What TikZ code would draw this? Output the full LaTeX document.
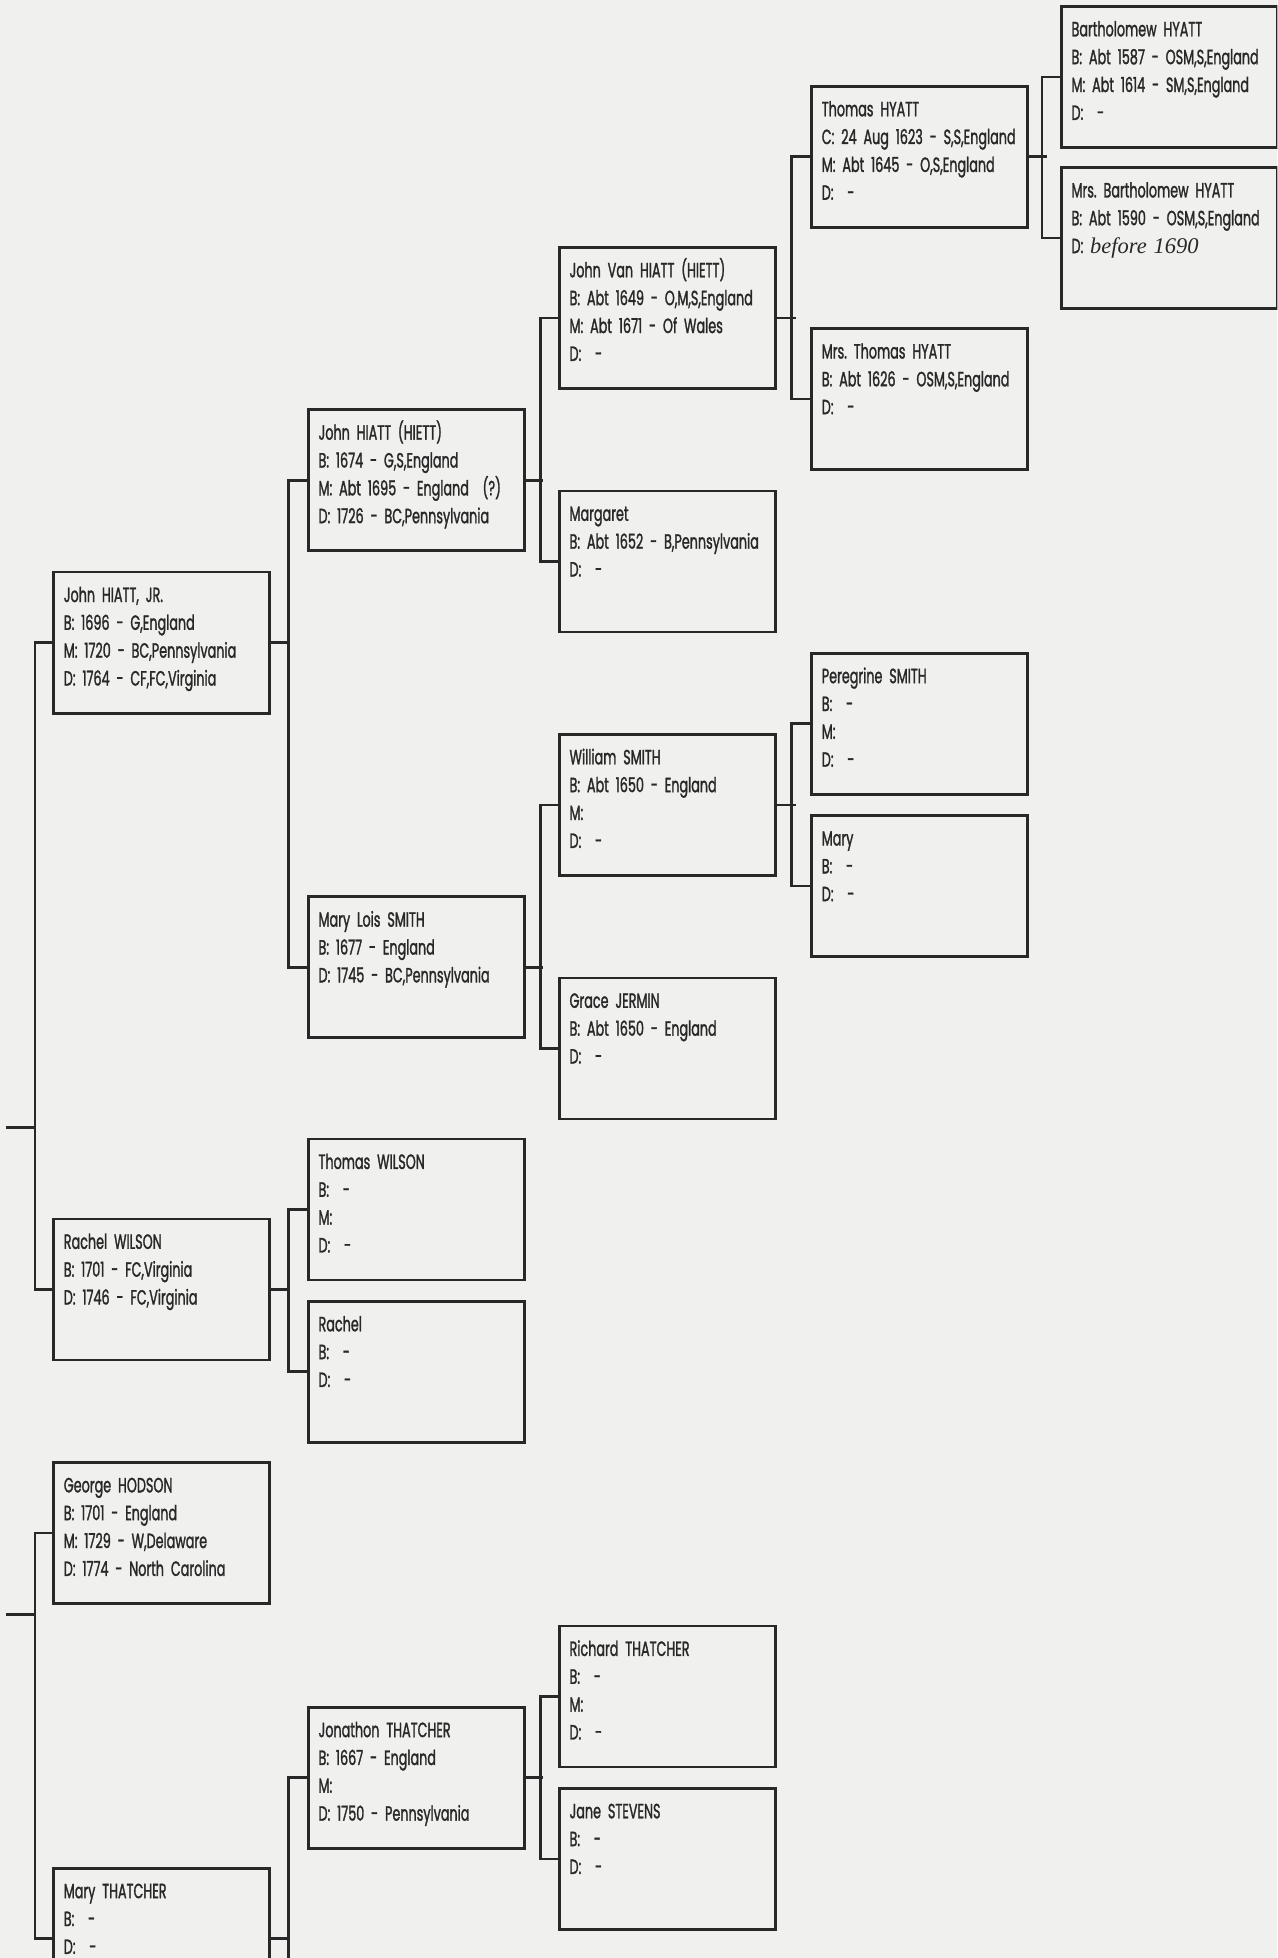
\documentclass[tikz,border=0pt]{standalone}
\usepackage{fontspec}
\setmainfont[FakeStretch=0.62, FakeBold=1.3, WordSpace=0.6]{Poppins}
\newfontfamily\handfont{Liberation Serif}
\definecolor{paper}{RGB}{240,240,238}
\definecolor{ink}{RGB}{40,40,40}

\begin{document}
\begin{tikzpicture}[x=1pt,y=-1pt]
    \tikzstyle{person}=[draw=ink, line width=2.2pt, anchor=north west, text=ink,
        text width=157pt, align=left, inner xsep=8pt, inner ysep=0pt,
        text height=24pt, text depth=89pt,
        font=\fontsize{16.5}{22.3}\selectfont]
    \tikzstyle{link}=[draw=ink, line width=2.2pt]

    \path[use as bounding box, fill=paper] (0,0) rectangle (1023,1568);
    \clip (0,0) rectangle (1023,1568);

    \node[person] (barth) at (849,4) {Bartholomew HYATT\\ B: Abt 1587 - OSM,S,England\\ M: Abt 1614 - SM,S,England\\ D:\ \ -};
    \node[person] (mrsbarth) at (849,133) {Mrs.\ Bartholomew HYATT\\ B: Abt 1590 - OSM,S,England\\ D: {\handfont\itshape\fontsize{18}{22.3}\selectfont before 1690}};

    \node[person] (thomas) at (649,68) {Thomas HYATT\\ C: 24 Aug 1623 - S,S,England\\ M: Abt 1645 - O,S,England\\ D:\ \ -};
    \node[person] (mrsthomas) at (649,262) {Mrs.\ Thomas HYATT\\ B: Abt 1626 - OSM,S,England\\ D:\ \ -};
    \node[person] (peregrine) at (649,522) {Peregrine SMITH\\ B:\ \ -\\ M:\\ D:\ \ -};
    \node[person] (mary) at (649,652) {Mary\\ B:\ \ -\\ D:\ \ -};

    \node[person] (johnvan) at (447,197) {John Van HIATT (HIETT)\\ B: Abt 1649 - O,M,S,England\\ M: Abt 1671 - Of Wales\\ D:\ \ -};
    \node[person] (margaret) at (447,392) {Margaret\\ B: Abt 1652 - B,Pennsylvania\\ D:\ \ -};
    \node[person] (william) at (447,587) {William SMITH\\ B: Abt 1650 - England\\ M:\\ D:\ \ -};
    \node[person] (grace) at (447,782) {Grace JERMIN\\ B: Abt 1650 - England\\ D:\ \ -};
    \node[person] (richard) at (447,1301) {Richard THATCHER\\ B:\ \ -\\ M:\\ D:\ \ -};
    \node[person] (jane) at (447,1431) {Jane STEVENS\\ B:\ \ -\\ D:\ \ -};

    \node[person] (johnhh) at (246,327) {John HIATT (HIETT)\\ B: 1674 - G,S,England\\ M: Abt 1695 - England\ \ (?)\\ D: 1726 - BC,Pennsylvania};
    \node[person] (marylois) at (246,717) {Mary Lois SMITH\\ B: 1677 - England\\ D: 1745 - BC,Pennsylvania};
    \node[person] (twilson) at (246,911) {Thomas WILSON\\ B:\ \ -\\ M:\\ D:\ \ -};
    \node[person] (rachel) at (246,1041) {Rachel\\ B:\ \ -\\ D:\ \ -};
    \node[person] (jonathon) at (246,1366) {Jonathon THATCHER\\ B: 1667 - England\\ M:\\ D: 1750 - Pennsylvania};

    \node[person] (hiattjr) at (42,457) {John HIATT, JR.\\ B: 1696 - G,England\\ M: 1720 - BC,Pennsylvania\\ D: 1764 - CF,FC,Virginia};
    \node[person] (rwilson) at (42,975) {Rachel WILSON\\ B: 1701 - FC,Virginia\\ D: 1746 - FC,Virginia};
    \node[person] (hodson) at (42,1170) {George HODSON\\ B: 1701 - England\\ M: 1729 - W,Delaware\\ D: 1774 - North Carolina};
    \node[person] (mthatcher) at (42,1495) {Mary THATCHER\\ B:\ \ -\\ D:\ \ -};

    \coordinate (kidA) at (5,903);
    \coordinate (kidB) at (5,1293);
    \coordinate (mumC) at (246,1682);

    \draw[link] (barth.west) -- ++(-14.5,0) |- (mrsbarth.west);
    \draw[link] (thomas.east) -- ++(14.5,0);
    \draw[link] (thomas.west) -- ++(-15,0) |- (mrsthomas.west);
    \draw[link] (johnvan.east) -- ++(15,0);
    \draw[link] (peregrine.west) -- ++(-15,0) |- (mary.west);
    \draw[link] (william.east) -- ++(15,0);
    \draw[link] (johnvan.west) -- ++(-14,0) |- (margaret.west);
    \draw[link] (johnhh.east) -- ++(14,0);
    \draw[link] (william.west) -- ++(-14,0) |- (grace.west);
    \draw[link] (marylois.east) -- ++(14,0);
    \draw[link] (richard.west) -- ++(-14,0) |- (jane.west);
    \draw[link] (jonathon.east) -- ++(14,0);
    \draw[link] (johnhh.west) -- ++(-15,0) |- (marylois.west);
    \draw[link] (hiattjr.east) -- ++(15,0);
    \draw[link] (twilson.west) -- ++(-15,0) |- (rachel.west);
    \draw[link] (rwilson.east) -- ++(15,0);
    \draw[link] (jonathon.west) -- ++(-15,0) |- (mumC);
    \draw[link] (mthatcher.east) -- ++(15,0);
    \draw[link] (hiattjr.west) -- ++(-14,0) |- (rwilson.west);
    \draw[link] (kidA) -- ++(23,0);
    \draw[link] (hodson.west) -- ++(-14,0) |- (mthatcher.west);
    \draw[link] (kidB) -- ++(23,0);
\end{tikzpicture}
\end{document}
